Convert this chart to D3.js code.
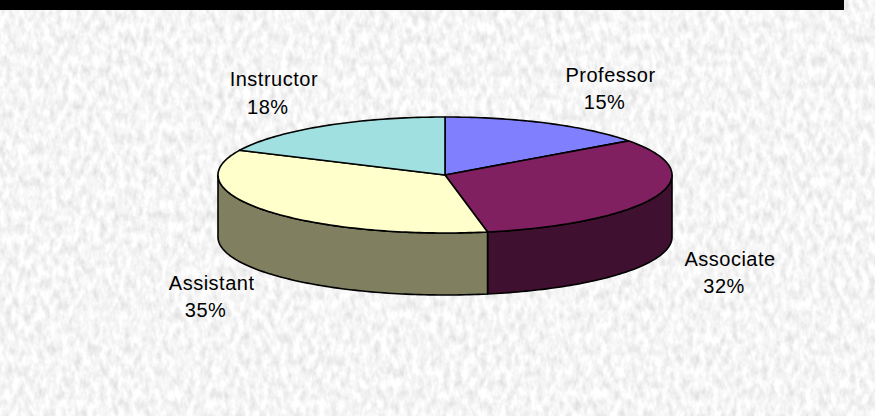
<!DOCTYPE html>
<html>
<head>
<meta charset="utf-8">
<script src="https://cdn.jsdelivr.net/npm/d3@7"></script>
<style>
  body { margin: 0; padding: 0; overflow: hidden; }
  svg { display: block; }
</style>
</head>
<body>
<script>
(function(){

    //chart data
    var categories = ["Professor", "Associate", "Assistant", "Instructor"];
    var shares = [15, 32, 35, 18]; //percent of faculty
    var pctLabels = ["15%", "32%", "35%", "18%"];

    //slice colours: top face and side wall
    var topColors = ["#8080ff", "#802060", "#ffffcc", "#a0e0e0"];
    var sideColors = ["#404080", "#401030", "#808060", "#508080"];

    var width = 875,
        height = 416;

    //ellipse geometry of the 3d pie
    var cx = 445, cy = 175,
        rx = 227, ry = 58,
        depth = 62;

    var svg = d3.select("body")
        .append("svg")
        .attr("width", width)
        .attr("height", height);

    //marble style background
    var defs = svg.append("defs");
    var filter = defs.append("filter")
        .attr("id", "marble")
        .attr("x", 0).attr("y", 0)
        .attr("width", "100%").attr("height", "100%");
    filter.append("feTurbulence")
        .attr("type", "fractalNoise")
        .attr("baseFrequency", "0.16 0.09")
        .attr("numOctaves", 3)
        .attr("seed", 7);
    filter.append("feColorMatrix")
        .attr("type", "matrix")
        .attr("values", "0.45 0 0 0 0.69  0.45 0 0 0 0.69  0.45 0 0 0 0.69  0 0 0 0 1");

    svg.append("rect")
        .attr("width", width)
        .attr("height", height)
        .attr("fill", "#ebebeb");
    svg.append("rect")
        .attr("width", width)
        .attr("height", height)
        .attr("filter", "url(#marble)");

    //black strip along the top
    svg.append("rect")
        .attr("x", 0).attr("y", 0)
        .attr("width", 844).attr("height", 10)
        .attr("fill", "#000");

    //pie layout, clockwise from 12 o'clock
    var pie = d3.pie().sort(null).value(function(d){ return d; });
    var arcs = pie(shares);

    //point on the rim for angle a
    function px(a){ return cx + rx * Math.sin(a); }
    function py(a){ return cy - ry * Math.cos(a); }

    //elliptical arc path helper (points sampled along the rim)
    function rimPoints(a0, a1, dy){
        var pts = [], n = Math.max(2, Math.ceil(Math.abs(a1 - a0) / 0.02));
        for (var i = 0; i <= n; i++){
            var a = a0 + (a1 - a0) * i / n;
            pts.push([px(a), py(a) + dy]);
        }
        return pts;
    }
    var line = d3.line();

    var chart = svg.append("g").attr("class", "pie3d");

    //side walls: only the front half (angles between pi/2 and 3pi/2) is seen
    arcs.forEach(function(d, i){
        var a0 = Math.max(d.startAngle, Math.PI / 2),
            a1 = Math.min(d.endAngle, 3 * Math.PI / 2);
        if (a1 <= a0) return;
        var pts = rimPoints(a0, a1, 0).concat(rimPoints(a1, a0, depth));
        chart.append("path")
            .attr("class", "side " + categories[i])
            .attr("d", line(pts) + "Z")
            .attr("fill", sideColors[i])
            .attr("stroke", "#000")
            .attr("stroke-width", 1.6)
            .attr("stroke-linejoin", "round");
    });

    //top faces
    arcs.forEach(function(d, i){
        var pts = [[cx, cy]].concat(rimPoints(d.startAngle, d.endAngle, 0));
        chart.append("path")
            .attr("class", "top " + categories[i])
            .attr("d", line(pts) + "Z")
            .attr("fill", topColors[i])
            .attr("stroke", "#000")
            .attr("stroke-width", 1.6)
            .attr("stroke-linejoin", "round");
    });

    //data labels placed outside each slice
    var labels = svg.append("g")
        .attr("class", "labels")
        .style("font-family", "'Liberation Sans', Arial, sans-serif")
        .style("font-size", "20px")
        .style("letter-spacing", "0.5px")
        .attr("fill", "#000");

    arcs.forEach(function(d, i){
        var m = (d.startAngle + d.endAngle) / 2,
            s = Math.sin(m),
            front = Math.cos(m) < 0;

        var g = labels.append("g");
        var t1 = g.append("text")
            .attr("text-anchor", "middle")
            .text(categories[i]);
        var t2 = g.append("text")
            .attr("text-anchor", "middle")
            .attr("dx", -6)
            .attr("dy", 27.5)
            .text(pctLabels[i]);

        var hw = t1.node().getComputedTextLength() / 2;
        var lx = cx + 250 * s + (s >= 0 ? hw : -hw) + 7,
            ly = cy - 97 * Math.cos(m) + (front ? depth : 0) - 6.75;
        g.attr("transform", "translate(" + lx + "," + ly + ")");
    });

})();
</script>
</body>
</html>
